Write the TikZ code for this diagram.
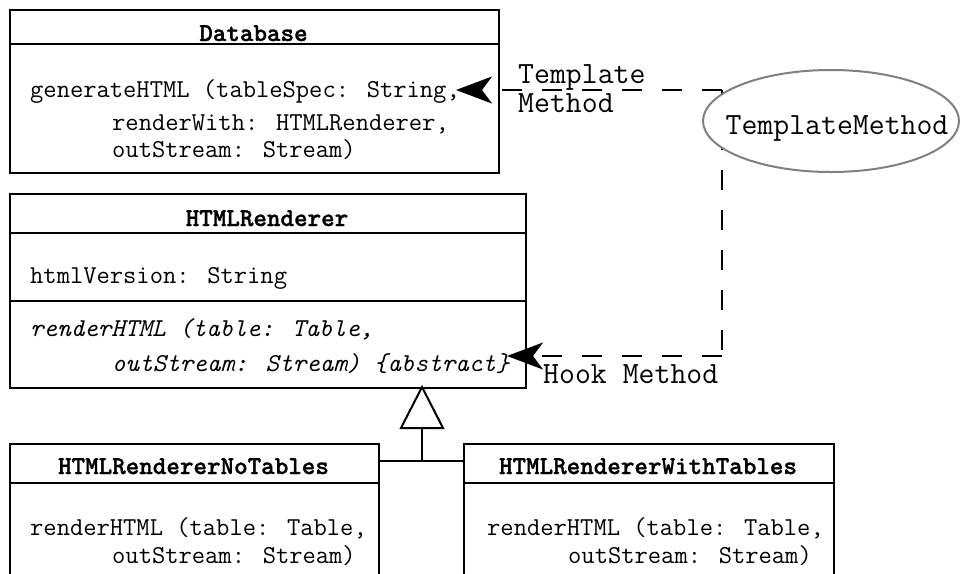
\documentclass[tikz,border=0pt]{standalone}
\usepackage{fontspec}
\newfontfamily\monobold{lmmonolt10-bold.otf}[FakeBold=1.2]
\usetikzlibrary{arrows.meta,shapes.geometric}
\tikzset{
  classbox/.style={draw, line width=2pt, inner sep=0pt, anchor=north west},
  sep/.style={line width=2pt},
  txt/.style={inner sep=0pt, anchor=base west, font=\ttfamily\fontsize{25.8}{30}\selectfont},
  ttl/.style={inner sep=0pt, anchor=base, font=\monobold\fontsize{25.8}{30}\selectfont},
  itxt/.style={txt, font=\ttfamily\itshape\fontsize{25.8}{30}\selectfont},
  lbl/.style={inner sep=0pt, anchor=base west, font=\ttfamily\fontsize{30.9}{34}\selectfont},
  dep/.style={line width=2pt, dash pattern=on 20pt off 20pt},
  tipped/.style={-{Stealth[length=36pt,width=27pt,inset=10pt]}},
}
\begin{document}
\begin{tikzpicture}[x=1pt,y=-1pt]
\clip (0,0) rectangle (960,573);
\fill[white] (0,0) rectangle (960,573);

% class Database
\node[classbox, minimum width=489pt, minimum height=163pt] (db) at (9,9) {};
\draw[sep] (9,44) -- (498,44);
\node[ttl] (dbname) at (253.5,41) {Database};
\node[txt] (dbop1) at (30,97) {generateHTML (tableSpec: String,};
\node[txt] (dbop2) at (112,130) {renderWith: HTMLRenderer,};
\node[txt] (dbop3) at (112,157) {outStream: Stream)};

% class HTMLRenderer
\node[classbox, minimum width=516pt, minimum height=194pt] (hr) at (9,193) {};
\draw[sep] (9,233) -- (525,233);
\draw[sep] (9,301) -- (525,301);
\node[ttl] (hrname) at (267,226) {HTMLRenderer};
\node[txt] (hrattr) at (30,283) {htmlVersion: String};
\node[itxt] (hrop1) at (30,336) {renderHTML (table: Table,};
\node[itxt] (hrop2) at (112,371) {outStream: Stream) \{abstract\}};

% subclasses
\node[classbox, minimum width=369pt, minimum height=200pt] (nt) at (9,443) {};
\draw[sep] (9,483) -- (378,483);
\node[ttl] (ntname) at (193.5,474) {HTMLRendererNoTables};
\node[txt] (ntop1) at (30,535) {renderHTML (table: Table,};
\node[txt] (ntop2) at (112,563) {outStream: Stream)};

\node[classbox, minimum width=370pt, minimum height=200pt] (wt) at (463,443) {};
\draw[sep] (463,483) -- (833,483);
\node[ttl] (wtname) at (648,474) {HTMLRendererWithTables};
\node[txt] (wtop1) at (487,535) {renderHTML (table: Table,};
\node[txt] (wtop2) at (568,563) {outStream: Stream)};

% generalization
\coordinate (apex) at (422,387);
\coordinate (base) at (422,428);
\coordinate (fork) at (422,461);
\draw[sep] (base) -- (fork);
\draw[sep] (nt.east |- fork) -- (wt.west |- fork);
\draw[sep, fill=white, line join=miter] (apex) -- (401,428) -- (443,428) -- cycle;

% pattern collaboration
\coordinate (c1) at (722,90);
\coordinate (c2) at (722,356);
\coordinate (dbtip) at (456,90);
\coordinate (hrtip) at (507,356);
\draw[dep, tipped] (c1) -- (dbtip);
\draw[dep] (c1) -- (c2);
\draw[dep, tipped] (c2) -- (hrtip);
\node[lbl] (tmlbl1) at (518,83) {Template};
\node[lbl] (tmlbl2) at (518,112) {Method};
\node[lbl] (hklbl) at (543,383) {Hook Method};

\node[ellipse, draw=black!50, line width=2pt, fill=white, inner sep=0pt,
      minimum width=256pt, minimum height=102pt] (tm) at (831,121) {};
\node[lbl, anchor=base] (tmname) at (837,134) {TemplateMethod};
\end{tikzpicture}
\end{document}
